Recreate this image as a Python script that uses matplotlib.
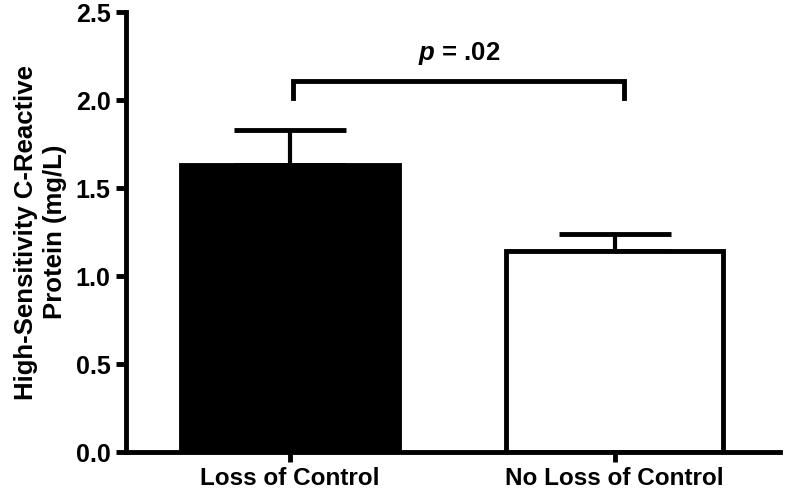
import matplotlib
matplotlib.use('Agg')
import matplotlib.pyplot as plt

groups = ['Loss of Control', 'No Loss of Control']
means = [1.63, 1.14]
sem = [0.20, 0.10]
fills = ['black', 'white']
p_text = '$\\bf{\\it{p}}$ = .02'
bracket_y = 2.11
bracket_drop = 0.10

plt.rcParams['font.family'] = ['Liberation Sans', 'DejaVu Sans']
plt.rcParams['font.weight'] = 'bold'
plt.rcParams['mathtext.fontset'] = 'custom'
plt.rcParams['mathtext.it'] = 'Liberation Sans:italic:bold'
plt.rcParams['mathtext.bf'] = 'Liberation Sans:bold'

fig = plt.figure(figsize=(7.92, 4.91), dpi=100)
ax = fig.add_axes([0.159, 0.0794, 0.826, 0.896])

x = list(range(len(groups)))
ax.bar(x, means, width=0.67, color=fills, edgecolor='black', linewidth=3.5, zorder=2)
ax.errorbar(x, means, yerr=[[0, 0], sem], fmt='none', ecolor='black',
            elinewidth=3, capsize=40, capthick=3.5, zorder=1)

# significance bracket
x0, x1 = 0.01, 1.03
ax.plot([x0, x0, x1, x1], [bracket_y - bracket_drop, bracket_y, bracket_y, bracket_y - bracket_drop],
        color='black', linewidth=3.5, solid_joinstyle='miter')
ax.text((x0 + x1) / 2, bracket_y + 0.08, p_text, ha='center', va='bottom',
        fontsize=18.5, fontweight='bold')

ax.set_xlim(-0.505, 1.51)
ax.set_ylim(0, 2.5)
ax.set_yticks([0.0, 0.5, 1.0, 1.5, 2.0, 2.5])
ax.set_yticklabels(['0.0', '0.5', '1.0', '1.5', '2.0', '2.5'])
ax.set_xticks(x)
ax.set_xticklabels(groups)
for lab in ax.get_yticklabels():
    lab.set_fontsize(18)
    lab.set_fontweight('bold')
for lab in ax.get_xticklabels():
    lab.set_fontsize(17.5)
    lab.set_fontweight('bold')

ax.set_ylabel('High-Sensitivity C-Reactive\nProtein (mg/L)', fontsize=18.5, fontweight='bold',
              labelpad=6, linespacing=1.3)

for s in ['top', 'right']:
    ax.spines[s].set_visible(False)
for s in ['left', 'bottom']:
    ax.spines[s].set_linewidth(3.5)
ax.tick_params(width=3.5, length=7, pad=4)

fig.savefig('out.png', dpi=100)
